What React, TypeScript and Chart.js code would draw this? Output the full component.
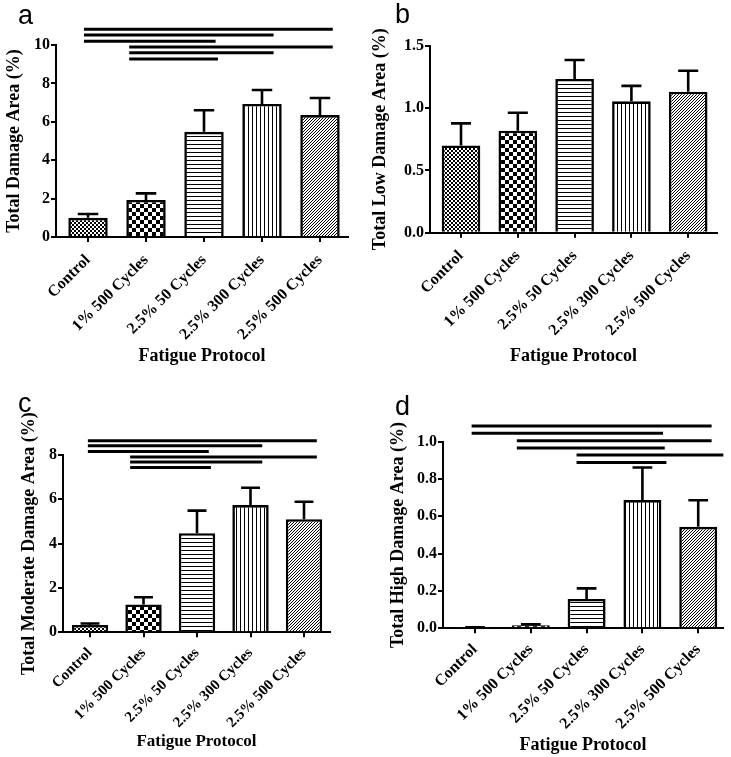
import React, { useEffect, useRef } from 'react';
import { Chart, registerables } from 'chart.js';

Chart.register(...registerables);

// ---------- data ----------
const CATEGORIES = ['Control', '1% 500 Cycles', '2.5% 50 Cycles', '2.5% 300 Cycles', '2.5% 500 Cycles'];

const TOTAL_MEAN = [1.0, 1.93, 5.48, 6.93, 6.35];
const TOTAL_SEM = [0.2, 0.34, 1.12, 0.73, 0.89];

const LOW_MEAN = [0.70, 0.818, 1.233, 1.054, 1.131];
const LOW_SEM = [0.177, 0.144, 0.152, 0.124, 0.168];

const MODERATE_MEAN = [0.33, 1.26, 4.47, 5.74, 5.1];
const MODERATE_SEM = [0.07, 0.32, 1.02, 0.78, 0.79];

const HIGH_MEAN = [0.004, 0.016, 0.157, 0.687, 0.544];
const HIGH_SEM = [0.001, 0.005, 0.057, 0.175, 0.142];

const Y_TICKS_TOTAL = [0, 2, 4, 6, 8, 10];
const Y_TICKS_LOW = [0, 0.5, 1.0, 1.5];
const Y_TICKS_MODERATE = [0, 2, 4, 6, 8];
const Y_TICKS_HIGH = [0, 0.2, 0.4, 0.6, 0.8, 1.0];

// significance bars: [from (category position), to (category position), level (data units)]
const SIG_TOTAL: number[][] = [
  [-0.07, 4.22, 10.82],
  [-0.07, 3.2, 10.52],
  [-0.07, 2.2, 10.19],
  [0.71, 4.22, 9.9],
  [0.71, 3.2, 9.6],
  [0.71, 2.24, 9.27],
];
const SIG_LOW: number[][] = [];
const SIG_MODERATE: number[][] = [
  [-0.04, 4.24, 8.64],
  [-0.04, 3.22, 8.42],
  [-0.04, 2.22, 8.16],
  [0.75, 4.24, 7.91],
  [0.75, 3.22, 7.68],
  [0.75, 2.26, 7.44],
];
const SIG_HIGH: number[][] = [
  [-0.06, 4.24, 1.084],
  [-0.06, 3.37, 1.045],
  [0.75, 4.24, 1.005],
  [0.75, 3.4, 0.966],
  [1.82, 4.45, 0.929],
  [1.82, 3.43, 0.889],
];

// ---------- styling / layout ----------
const SERIF = '"Liberation Serif", "Times New Roman", serif';
const SANS = '"Liberation Sans", Arial, sans-serif';

type Panel = {
  letter: string; left: number; top: number; w: number; h: number;
  axisW: number; plotRight: number; plotTop: number; plotBottom: number;
  xMin: number; xMax: number; yMax: number; yTicks: number[]; decimals: number;
  yTitle: string; yTitlePad: number; xTitlePad: number; lx: number; ly: number;
  tickSize: number; xTitleSize: number; labelPad: number;
  mean: number[]; sem: number[]; sig: number[][];
};

const PANELS: Panel[] = [
  { letter: 'a', left: 0, top: 0, w: 365, h: 378, axisW: 56, plotRight: 348, plotTop: 45, plotBottom: 237,
    xMin: -0.552, xMax: 4.483, yMax: 10, yTicks: Y_TICKS_TOTAL, decimals: 0,
    yTitle: 'Total Damage Area (%)', yTitlePad: 3.5, xTitlePad: 10.7, lx: 18, ly: 24,
    tickSize: 16, xTitleSize: 18, labelPad: 9,
    mean: TOTAL_MEAN, sem: TOTAL_SEM, sig: SIG_TOTAL },
  { letter: 'b', left: 365, top: 0, w: 366, h: 378, axisW: 65, plotRight: 352, plotTop: 45.7, plotBottom: 232.7,
    xMin: -0.546, xMax: 4.507, yMax: 1.5, yTicks: Y_TICKS_LOW, decimals: 1,
    yTitle: 'Total Low Damage Area (%)', yTitlePad: 4.5, xTitlePad: 11.2, lx: 30, ly: 23,
    tickSize: 16, xTitleSize: 18, labelPad: 9,
    mean: LOW_MEAN, sem: LOW_SEM, sig: SIG_LOW },
  { letter: 'c', left: 0, top: 378, w: 365, h: 379, axisW: 63, plotRight: 330, plotTop: 77, plotBottom: 254.3,
    xMin: -0.505, xMax: 4.486, yMax: 8, yTicks: Y_TICKS_MODERATE, decimals: 0,
    yTitle: 'Total Moderate Damage Area (%)', yTitlePad: 18.5, xTitlePad: 5, lx: 18, ly: 34,
    tickSize: 15, xTitleSize: 17, labelPad: 7,
    mean: MODERATE_MEAN, sem: MODERATE_SEM, sig: SIG_MODERATE },
  { letter: 'd', left: 365, top: 378, w: 366, h: 379, axisW: 78, plotRight: 358, plotTop: 63.7, plotBottom: 250.3,
    xMin: -0.573, xMax: 4.444, yMax: 1.0, yTicks: Y_TICKS_HIGH, decimals: 1,
    yTitle: 'Total High Damage Area (%)', yTitlePad: 22.5, xTitlePad: 1.2, lx: 30, ly: 37,
    tickSize: 16, xTitleSize: 18, labelPad: 7,
    mean: HIGH_MEAN, sem: HIGH_SEM, sig: SIG_HIGH },
];

function makePattern(kind: string): CanvasPattern | string {
  const t = document.createElement('canvas');
  const size = kind === 'coarse' ? 8 : kind === 'diag' ? 3 : 4;
  t.width = size; t.height = size;
  const c = t.getContext('2d');
  if (!c) return '#fff';
  c.fillStyle = '#fff';
  c.fillRect(0, 0, size, size);
  c.fillStyle = '#000';
  if (kind === 'fine') {
    c.fillRect(0, 0, 2, 2);
    c.fillRect(2, 2, 2, 2);
  } else if (kind === 'coarse') {
    c.fillRect(0, 0, 4, 4);
    c.fillRect(4, 4, 4, 4);
  } else if (kind === 'hlines') {
    c.fillRect(0, 0, 4, 1);
  } else if (kind === 'vlines') {
    c.fillRect(0, 0, 1, 4);
  } else if (kind === 'diag') {
    for (let i = 0; i < 3; i++) c.fillRect(i, 2 - i, 1, 1);
  }
  const main = document.createElement('canvas').getContext('2d');
  const p = main ? main.createPattern(t, 'repeat') : null;
  return p || '#fff';
}

const PATTERN_KINDS = ['fine', 'coarse', 'hlines', 'vlines', 'diag'];

const overlayPlugin = {
  id: 'overlay',
  afterDatasetsDraw(chart: any) {
    const p: Panel = chart.options.plugins.overlay.panel;
    const { ctx } = chart;
    const ys = chart.scales.y;
    const meta = chart.getDatasetMeta(0);
    ctx.save();
    ctx.strokeStyle = '#000';
    ctx.lineWidth = 2.6;
    ctx.lineCap = 'butt';
    meta.data.forEach((el: any, i: number) => {
      const yTop = ys.getPixelForValue(p.mean[i] + p.sem[i]);
      const half = el.width * 0.26;
      ctx.beginPath();
      ctx.moveTo(el.x, el.y);
      ctx.lineTo(el.x, yTop);
      ctx.moveTo(el.x - half, yTop);
      ctx.lineTo(el.x + half, yTop);
      ctx.stroke();
    });
    ctx.restore();
  },
  afterDraw(chart: any) {
    const p: Panel = chart.options.plugins.overlay.panel;
    const { ctx } = chart;
    const xs = chart.scales.x;
    const ys = chart.scales.y;
    ctx.save();
    ctx.strokeStyle = '#000';
    ctx.lineWidth = 3;
    p.sig.forEach(([a, b, lvl]) => {
      const y = ys.getPixelForValue(lvl);
      ctx.beginPath();
      ctx.moveTo(xs.getPixelForValue(a), y);
      ctx.lineTo(xs.getPixelForValue(b), y);
      ctx.stroke();
    });
    ctx.fillStyle = '#000';
    ctx.font = `27px ${SANS}`;
    ctx.textAlign = 'left';
    ctx.textBaseline = 'alphabetic';
    ctx.fillText(p.letter, p.lx, p.ly);
    ctx.restore();
  },
};

function PanelChart({ panel }: { panel: Panel }) {
  const ref = useRef<HTMLCanvasElement | null>(null);
  useEffect(() => {
    if (!ref.current) return;
    const patterns = PATTERN_KINDS.map(makePattern);
    const tickFont = { family: SERIF, size: panel.tickSize, weight: 'bold' as const };
    const yTickFont = { family: SERIF, size: 16, weight: 'bold' as const };
    const titleFont = { family: SERIF, size: 18, weight: 'bold' as const };
    const xTitleFont = { family: SERIF, size: panel.xTitleSize, weight: 'bold' as const };
    const chart = new Chart(ref.current, {
      type: 'bar',
      data: {
        datasets: [{
          data: panel.mean.map((v, i) => ({ x: i, y: v })),
          backgroundColor: patterns as any,
          borderColor: '#000',
          borderWidth: 2.6,
          borderSkipped: 'start',
          barPercentage: 0.68,
          categoryPercentage: 1,
        }],
      },
      options: {
        animation: false,
        responsive: false,
        maintainAspectRatio: false,
        devicePixelRatio: 1,
        layout: { padding: { left: 0, top: panel.plotTop, right: panel.w - panel.plotRight, bottom: 0 } },
        plugins: {
          legend: { display: false },
          tooltip: { enabled: false },
          overlay: { panel },
        } as any,
        scales: {
          x: {
            type: 'linear',
            offset: false,
            min: panel.xMin,
            max: panel.xMax,
            afterBuildTicks: (s: any) => { s.ticks = CATEGORIES.map((_, i) => ({ value: i })); },
            afterFit: (s: any) => { s.height = panel.h - panel.plotBottom; },
            ticks: {
              callback: (v: any) => CATEGORIES[Math.round(Number(v))],
              minRotation: 45, maxRotation: 45, autoSkip: false,
              color: '#000', font: tickFont, padding: panel.labelPad,
            },
            grid: { display: true, drawOnChartArea: false, drawTicks: true, tickLength: 5, color: '#000', lineWidth: 2, offset: false },
            border: { display: true, color: '#000', width: 2 },
            title: { display: true, text: 'Fatigue Protocol', color: '#000', font: xTitleFont, padding: { top: 0, bottom: panel.xTitlePad } },
          },
          y: {
            type: 'linear',
            min: 0,
            max: panel.yMax,
            afterBuildTicks: (s: any) => { s.ticks = panel.yTicks.map((v) => ({ value: v })); },
            afterFit: (s: any) => { s.width = panel.axisW; },
            ticks: {
              callback: (v: any) => Number(v).toFixed(panel.decimals),
              color: '#000', font: yTickFont, padding: 1,
            },
            grid: { display: true, drawOnChartArea: false, drawTicks: true, tickLength: 5, color: '#000', lineWidth: 2 },
            border: { display: true, color: '#000', width: 2 },
            title: { display: true, text: panel.yTitle, color: '#000', font: titleFont, padding: { top: panel.yTitlePad, bottom: 0 } },
          },
        },
      } as any,
      plugins: [overlayPlugin],
    });
    return () => chart.destroy();
  }, [panel]);
  return (
    <canvas
      ref={ref}
      width={panel.w}
      height={panel.h}
      style={{ position: 'absolute', left: panel.left, top: panel.top, width: panel.w, height: panel.h }}
    />
  );
}

export default function App() {
  return (
    <div style={{ position: 'absolute', left: 0, top: 0, width: 731, height: 757, background: '#fff' }}>
      {PANELS.map((p) => <PanelChart key={p.letter} panel={p} />)}
    </div>
  );
}
